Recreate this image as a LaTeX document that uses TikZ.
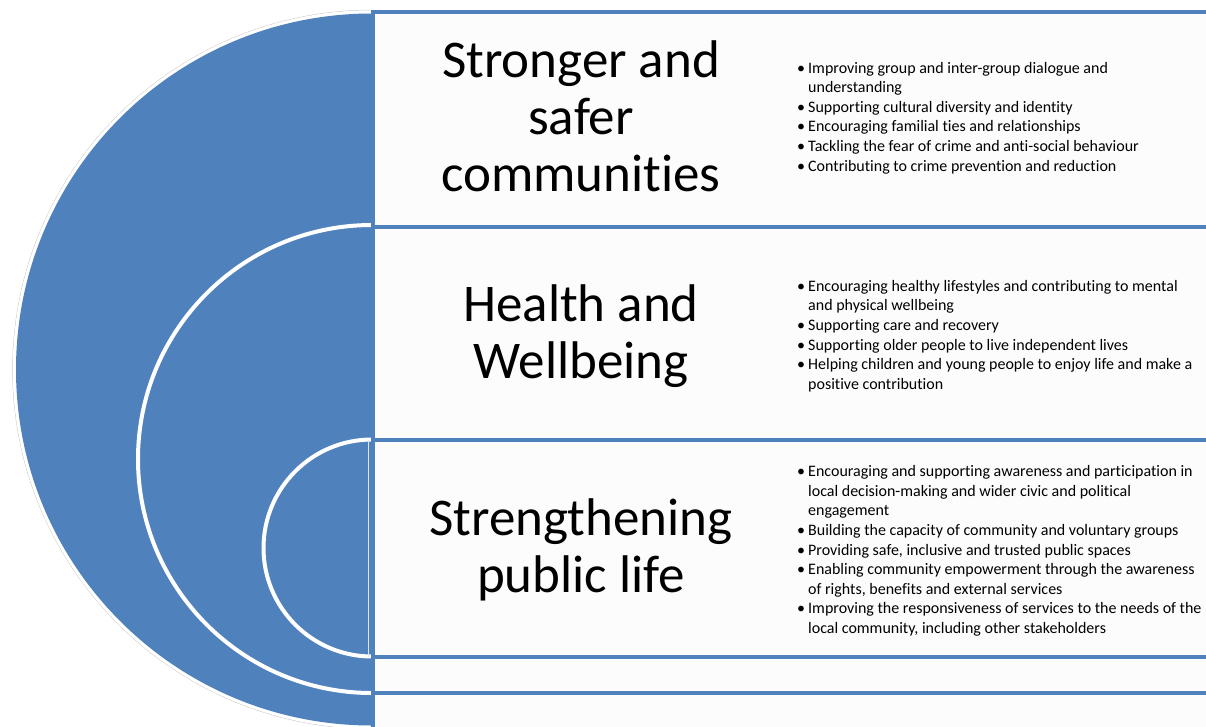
\documentclass[tikz,border=0pt]{standalone}
\usepackage{fontspec}
\setmainfont{Carlito}[Ligatures=NoCommon]
\definecolor{ringblue}{RGB}{79,129,189}
\definecolor{paper}{RGB}{252,252,252}
\newcommand{\bul}{\makebox[11pt][l]{\textbullet}}
\newcommand{\ind}{\hspace*{11pt}}

\begin{document}
\begin{tikzpicture}[x=1pt, y=-1pt,
    box/.style = {draw=ringblue, line width=4pt, fill=paper},
    ring/.style = {fill=ringblue, draw=white, line width=4pt},
    title/.style = {align=center, inner sep=0pt,
      font=\fontsize{53}{57}\selectfont},
    points/.style = {align=left, anchor=west, inner sep=0pt,
      font=\fontsize{16}{19.6}\selectfont}]
  \useasboundingbox (0,0) rectangle (1206,726);

  % outer half disc with its white rim
  \draw[gray!45, line width=0.8pt] (372,10.2) arc[start angle=90, end angle=270, radius=359.3pt];
  \draw[white, line width=3.5pt] (372,12) arc[start angle=90, end angle=270, radius=357.5pt];
  \fill[ringblue] (372,13.5) arc[start angle=90, end angle=270, radius=356pt] -- cycle;
  % middle and inner rings
  \draw[ring] (372,225) arc[start angle=90, end angle=270, radius=234pt];
  \draw[ring] (372,439.5) arc[start angle=90, end angle=270, radius=108.5pt];
  \draw[white!80!ringblue, line width=1pt] (368,440) -- (368,657);

  % bands on the right
  \draw[box] (372.5,11.5) rectangle (1220,226.5);
  \draw[box] (372.5,226.5) rectangle (1220,440);
  \draw[box] (372.5,440) rectangle (1220,657);
  \draw[box] (372.5,657) rectangle (1220,693);
  \draw[box] (372.5,693) rectangle (1220,740);

  \node[title] (safer) at (581,116) {Stronger and\\safer\\communities};
  \node[title] (health) at (581,336) {Health and\\Wellbeing};
  \node[title] (public) at (581,550) {Strengthening\\public life};

  \node[points] (safer-list) at (797,118) {%
    \bul Improving group and inter-group dialogue and\\
    \ind understanding\\
    \bul Supporting cultural diversity and identity\\
    \bul Encouraging familial ties and relationships\\
    \bul Tackling the fear of crime and anti-social behaviour\\
    \bul Contributing to crime prevention and reduction};
  \node[points] (health-list) at (797,336) {%
    \bul Encouraging healthy lifestyles and contributing to mental\\
    \ind and physical wellbeing\\
    \bul Supporting care and recovery\\
    \bul Supporting older people to live independent lives\\
    \bul Helping children and young people to enjoy life and make a\\
    \ind positive contribution};
  \node[points] (public-list) at (797,551) {%
    \bul Encouraging and supporting awareness and participation in\\
    \ind local decision-making and wider civic and political\\
    \ind engagement\\
    \bul Building the capacity of community and voluntary groups\\
    \bul Providing safe, inclusive and trusted public spaces\\
    \bul Enabling community empowerment through the awareness\\
    \ind of rights, benefits and external services\\
    \bul Improving the responsiveness of services to the needs of the\\
    \ind local community, including other stakeholders};
\end{tikzpicture}
\end{document}
